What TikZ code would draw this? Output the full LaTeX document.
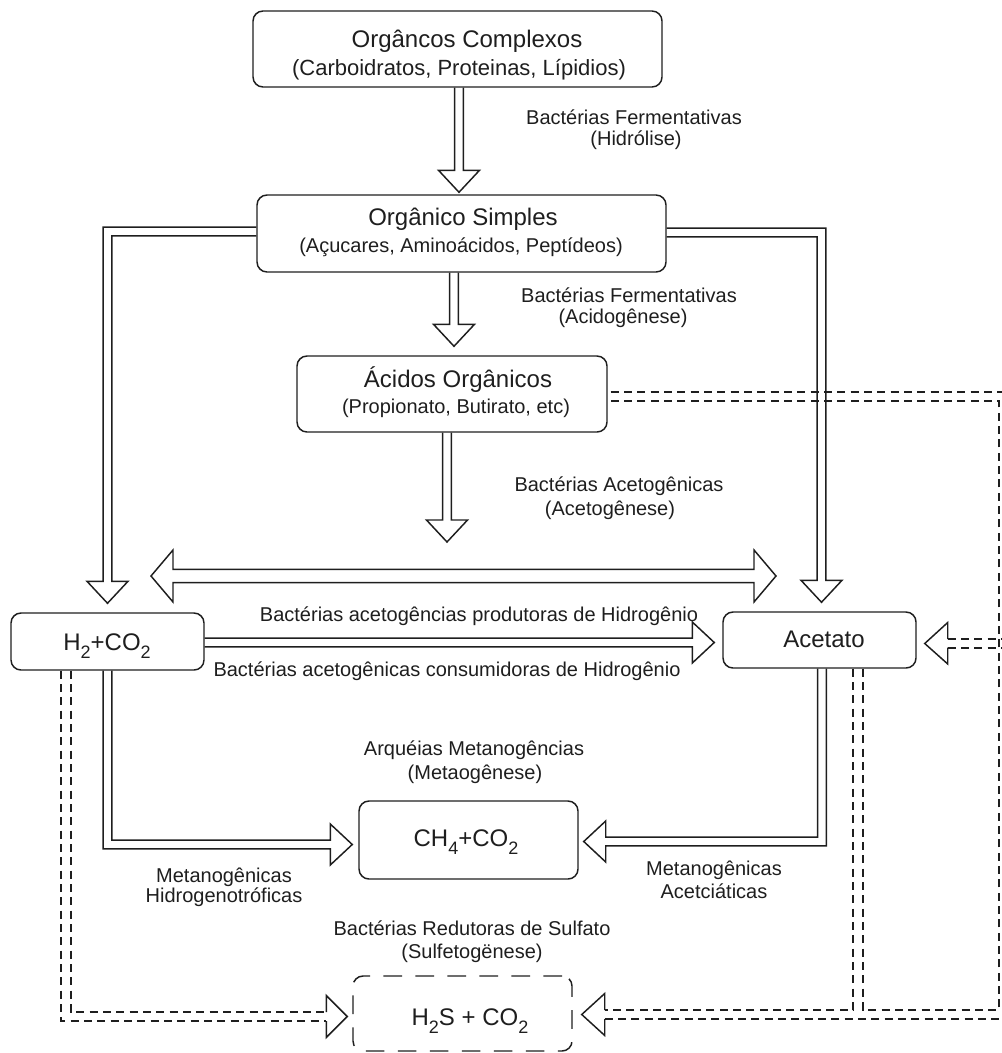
\documentclass[tikz,border=0pt]{standalone}
\usepackage{fontspec}
\setmainfont{Liberation Sans}
\usetikzlibrary{calc}
\definecolor{ink}{RGB}{30,30,30}
\def\ASW{3.3pt}
\def\AHW{15.4pt}
\def\AHL{16.5pt}
\newcommand\lowsub[1]{\raisebox{-6pt}{\fontsize{13.5}{14}\selectfont #1}}
% vertical down arrow: #1 start (top middle), #2 tip
\newcommand\arrVD[2]{\draw[conn] let \p1=#1, \p2=#2 in
  (\x1-\ASW,\y1) -- (\x1-\ASW,\y2+\AHL) -- (\x1-\AHW,\y2+\AHL) -- (\x1,\y2)
  -- (\x1+\AHW,\y2+\AHL) -- (\x1+\ASW,\y2+\AHL) -- (\x1+\ASW,\y1);}
% left then down
\newcommand\arrLD[2]{\draw[conn] let \p1=#1, \p2=#2 in
  (\x1,\y1+\ASW) -- (\x2-\ASW,\y1+\ASW) -- (\x2-\ASW,\y2+\AHL) -- (\x2-\AHW,\y2+\AHL)
  -- (\x2,\y2) -- (\x2+\AHW,\y2+\AHL) -- (\x2+\ASW,\y2+\AHL) -- (\x2+\ASW,\y1-\ASW) -- (\x1,\y1-\ASW);}
% right then down
\newcommand\arrRD[2]{\draw[conn] let \p1=#1, \p2=#2 in
  (\x1,\y1+\ASW) -- (\x2+\ASW,\y1+\ASW) -- (\x2+\ASW,\y2+\AHL) -- (\x2+\AHW,\y2+\AHL)
  -- (\x2,\y2) -- (\x2-\AHW,\y2+\AHL) -- (\x2-\ASW,\y2+\AHL) -- (\x2-\ASW,\y1-\ASW) -- (\x1,\y1-\ASW);}
% horizontal right
\newcommand\arrHR[2]{\draw[conn] let \p1=#1, \p2=#2 in
  (\x1,\y1+\ASW) -- (\x2-\AHL,\y1+\ASW) -- (\x2-\AHL,\y1+\AHW) -- (\x2,\y1)
  -- (\x2-\AHL,\y1-\AHW) -- (\x2-\AHL,\y1-\ASW) -- (\x1,\y1-\ASW);}
% down then right
\newcommand\arrDR[2]{\draw[conn] let \p1=#1, \p2=#2 in
  (\x1-\ASW,\y1) -- (\x1-\ASW,\y2-\ASW) -- (\x2-\AHL,\y2-\ASW) -- (\x2-\AHL,\y2-\AHW) -- (\x2,\y2)
  -- (\x2-\AHL,\y2+\AHW) -- (\x2-\AHL,\y2+\ASW) -- (\x1+\ASW,\y2+\ASW) -- (\x1+\ASW,\y1);}
% down then left
\newcommand\arrDL[2]{\draw[conn] let \p1=#1, \p2=#2 in
  (\x1+\ASW,\y1) -- (\x1+\ASW,\y2-\ASW) -- (\x2+\AHL,\y2-\ASW) -- (\x2+\AHL,\y2-\AHW) -- (\x2,\y2)
  -- (\x2+\AHL,\y2+\AHW) -- (\x2+\AHL,\y2+\ASW) -- (\x1-\ASW,\y2+\ASW) -- (\x1-\ASW,\y1);}

\begin{document}
\begin{tikzpicture}[x=0.75pt,y=-0.75pt,
  box/.style={draw=ink, line width=1.1pt, rounded corners=7.5pt, inner sep=0pt},
  dbox/.style={box, dash pattern=on 14pt off 10pt},
  conn/.style={draw=ink, line width=1.1pt, line join=miter},
  dsh/.style={draw=ink, line width=1.1pt, dash pattern=on 6pt off 4pt},
  ttl/.style={font=\fontsize{18}{21}\selectfont, text=ink, anchor=base, inner sep=0pt},
  sbt/.style={font=\fontsize{16.5}{19}\selectfont, text=ink, anchor=base, inner sep=0pt},
  lab/.style={font=\fontsize{15}{18}\selectfont, text=ink, anchor=base, inner sep=0pt}]
\useasboundingbox (0,0) rectangle (1002,1053);

% boxes
\node[box, minimum width=306.75pt, minimum height=57pt] (b1) at (457.5,49) {};
\node[box, minimum width=306.75pt, minimum height=57.75pt] (b2) at (461.5,233.5) {};
\node[box, minimum width=232.5pt, minimum height=57pt] (b3) at (452,394) {};
\node[box, minimum width=144.75pt, minimum height=42.75pt] (h2) at (107.5,641.5) {};
\node[box, minimum width=144.75pt, minimum height=42pt] (ac) at (819.5,640) {};
\node[box, minimum width=164.25pt, minimum height=58.5pt] (ch4) at (468.5,840) {};
\node[dbox, minimum width=164.25pt, minimum height=56.25pt] (h2s) at (462.5,1013.5) {};

% box texts
\node[ttl] (t1a) at (467,47) {Orgâncos Complexos};
\node[sbt] (t1b) at (459,75) {(Carboidratos, Proteinas, Lípidios)};
\node[ttl] (t2a) at (463,225) {Orgânico Simples};
\node[lab] (t2b) at (461,252) {(Açucares, Aminoácidos, Peptídeos)};
\node[ttl] (t3a) at (458,387) {Ácidos Orgânicos};
\node[lab] (t3b) at (456,413) {(Propionato, Butirato, etc)};
\node[ttl] (th2) at (107,650) {H\lowsub{2}+CO\lowsub{2}};
\node[ttl] (tac) at (824,647) {Acetato};
\node[ttl] (tch4) at (466,846) {CH\lowsub{4}+CO\lowsub{2}};
\node[ttl] (th2s) at (470,1025) {H\lowsub{2}S + CO\lowsub{2}};

% labels
\node[lab] (l1a) at (634,124) {Bactérias Fermentativas};
\node[lab] (l1b) at (636,145) {(Hidrólise)};
\node[lab] (l2a) at (629,302) {Bactérias Fermentativas};
\node[lab] (l2b) at (623,323) {(Acidogênese)};
\node[lab] (l3a) at (619,491) {Bactérias Acetogênicas};
\node[lab] (l3b) at (610,515) {(Acetogênese)};
\node[lab] (l4) at (479,621) {Bactérias acetogências produtoras de Hidrogênio};
\node[lab] (l5) at (447,676) {Bactérias acetogênicas consumidoras de Hidrogênio};
\node[lab] (l6a) at (474,755) {Arquéias Metanogências};
\node[lab] (l6b) at (475,779) {(Metaogênese)};
\node[lab] (l7a) at (224,882) {Metanogênicas};
\node[lab] (l7b) at (224,902) {Hidrogenotróficas};
\node[lab] (l8a) at (714,875) {Metanogênicas};
\node[lab] (l8b) at (714,898) {Acetciáticas};
\node[lab] (l9a) at (472,935) {Bactérias Redutoras de Sulfato};
\node[lab] (l9b) at (472,958) {(Sulfetogënese)};

% free coordinates
\coordinate (a3tip) at (447,542);
\coordinate (dl) at (151,576);
\coordinate (dr) at (776,576);
\coordinate (rloop) at (999,1010);
\coordinate (rtop) at (1006,392);
\coordinate (rbot) at (1006,1019);
\coordinate (racA) at (1006,639);
\coordinate (racB) at (1006,648);

% solid hollow arrows
\arrVD{($(b1.south)+(1.5,0)$)}{($(b2.north)+(0,-2)$)}
\arrVD{($(b2.south)+(-7.5,0)$)}{($(b3.north)+(0,-9)$)}
\arrVD{($(b3.south)+(-5,0)$)}{(a3tip)}
\arrLD{($(b2.west)+(0,-2)$)}{($(h2.north)+(0,-9)$)}
\arrRD{($(b2.east)+(0,-1)$)}{($(ac.north)+(2,-9)$)}
\arrHR{($(h2.east)+(0,1)$)}{($(ac.west)+(-8,0)$)}
\arrDR{(h2.south)}{($(ch4.west)+(-6,4.5)$)}
\arrDL{($(ac.south)+(2.5,0)$)}{($(ch4.east)+(5,1.5)$)}

% double-headed arrow
\draw[conn] let \p1=(dl), \p2=(dr) in
  (\p1) -- (\x1+\AHL,\y1+19.5pt) -- (\x1+\AHL,\y1+4.9pt) -- (\x2-\AHL,\y1+4.9pt)
  -- (\x2-\AHL,\y1+19.5pt) -- (\p2) -- (\x2-\AHL,\y1-19.5pt) -- (\x2-\AHL,\y1-4.9pt)
  -- (\x1+\AHL,\y1-4.9pt) -- (\x1+\AHL,\y1-19.5pt) -- cycle;

% dashed connectors: H2+CO2 -> H2S
\draw[dsh] ($(h2.south)+(-46.5,0)$) |- ($(h2s.west)+(-26,7.5)$);
\draw[dsh] ($(h2.south)+(-36.5,0)$) |- ($(h2s.west)+(-26,-1.5)$);
\draw[conn] ($(h2s.west)+(-26,-1.5)$) -- ++(0,-16.5) -- ($(h2s.west)+(-5,3)$)
  -- ($(h2s.west)+(-26,24)$) -- ++(0,-16.5);

% dashed: Acetato -> H2S, and Acidos -> loop
\draw[dsh] ($(ac.south)+(33.5,0)$) |- ($(h2s.east)+(32,-3.5)$);
\draw[dsh] ($(ac.south)+(43.5,0)$) |- (rloop) |- ($(b3.east)+(3,7)$);
\draw[dsh] ($(b3.east)+(3,-2)$) -- (rtop);
\draw[dsh] ($(h2s.east)+(32,5.5)$) -- (rbot);
\draw[conn] ($(h2s.east)+(32,-3.5)$) -- ++(0,-16.5) -- ($(h2s.east)+(9,1)$)
  -- ($(h2s.east)+(32,22)$) -- ++(0,-16.5);

% dashed arrow into Acetato from the right
\draw[dsh] ($(ac.east)+(31,-1)$) -- (racA);
\draw[dsh] ($(ac.east)+(31,8)$) -- (racB);
\draw[conn] ($(ac.east)+(31,-1)$) -- ++(0,-16.5) -- ($(ac.east)+(8,3.5)$)
  -- ($(ac.east)+(31,24)$) -- ++(0,-16.5);
\end{tikzpicture}
\end{document}
